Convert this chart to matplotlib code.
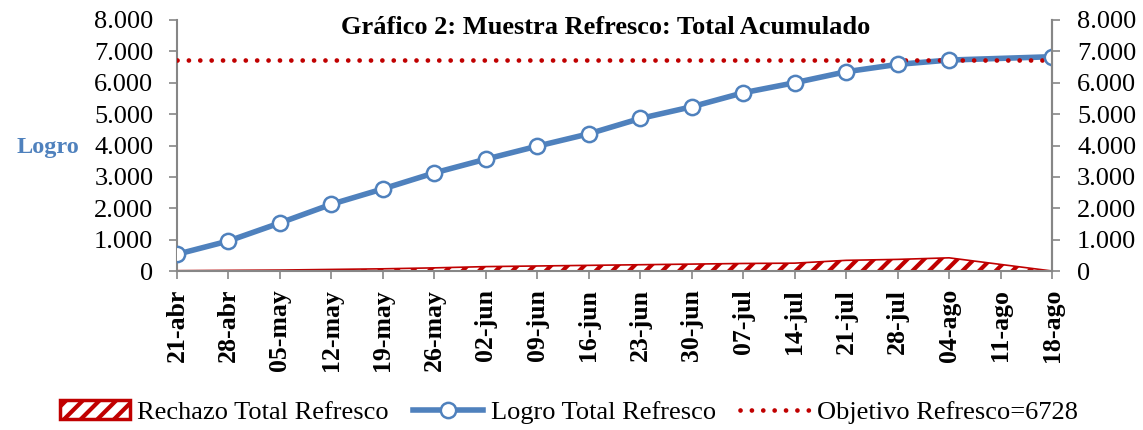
import numpy as np
import matplotlib
matplotlib.use('Agg')
import matplotlib.pyplot as plt
from matplotlib.ticker import FuncFormatter

plt.rcParams['font.family'] = ['Liberation Serif', 'DejaVu Serif']
plt.rcParams['hatch.color'] = '#C00000'
plt.rcParams['hatch.linewidth'] = 3.0

# Data
weeks = ['21-abr', '28-abr', '05-may', '12-may', '19-may', '26-may', '02-jun', '09-jun',
         '16-jun', '23-jun', '30-jun', '07-jul', '14-jul', '21-jul', '28-jul', '04-ago',
         '11-ago', '18-ago']
logro = [533, 957, 1532, 2128, 2617, 3127, 3564, 3979, 4372, 4862, 5234, 5680, 6000,
         6351, 6585, 6723, np.nan, 6830]
rechazo = [10, 20, 30, 50, 70, 100, 140, 160, 180, 200, 220, 240, 250, 340, 370, 420, 210, 0]
objetivo = 6728

blue = '#4F81BD'
red = '#C00000'
gray = '#868686'

fig = plt.figure(figsize=(11.43, 4.30), dpi=100)
ax = fig.add_axes([177 / 1143, 1 - 271 / 430, (1052 - 177) / 1143, (271 - 20) / 430])

x = np.arange(len(weeks))
ax.fill_between(x, rechazo, 0, facecolor='white', edgecolor=red, hatch='//',
                linewidth=1.2, label='Rechazo Total Refresco', zorder=2)

lg = np.array(logro, dtype=float)
m = ~np.isnan(lg)
ax.plot(x[m], lg[m], color=blue, linewidth=4, zorder=3)
ax.plot(x[m], lg[m], linestyle='none', marker='o', markersize=11, markerfacecolor='white',
        markeredgecolor=blue, markeredgewidth=1.8, zorder=4)
ax.plot([], [], color=blue, linewidth=4, marker='o', markersize=11,
        markerfacecolor='white', markeredgecolor=blue, markeredgewidth=1.8,
        label='Logro Total Refresco')

ax.plot([0, len(weeks) - 1], [objetivo, objetivo], color=red, linestyle=(0, (0.01, 2.4)),
        linewidth=3.4, dash_capstyle='round', label='Objetivo Refresco=6728', zorder=3)

ax.set_xlim(0, len(weeks) - 1)
ax.set_ylim(0, 8000)
ax.set_yticks(range(0, 8001, 1000))
fmt = FuncFormatter(lambda v, p: '0' if v == 0 else f'{int(v):,}'.replace(',', '.'))
ax.yaxis.set_major_formatter(fmt)
ax.set_xticks(x)
ax.set_xticklabels(weeks, rotation=90, fontweight='bold', fontsize=18.5)
ax.tick_params(axis='y', labelsize=19, length=6, color=gray, width=1.2, pad=11)
ax.tick_params(axis='x', length=6, color=gray, width=1.2, pad=7)

ax.spines['top'].set_visible(False)
for s in ['left', 'right', 'bottom']:
    ax.spines[s].set_color(gray)
    ax.spines[s].set_linewidth(1.5)

ax2 = ax.twinx()
ax2.set_ylim(0, 8000)
ax2.set_yticks(range(0, 8001, 1000))
ax2.yaxis.set_major_formatter(fmt)
ax2.tick_params(axis='y', labelsize=19, length=6, color=gray, width=1.2, pad=12)
for s in ['top', 'left', 'bottom']:
    ax2.spines[s].set_visible(False)
ax2.spines['right'].set_color(gray)
ax2.spines['right'].set_linewidth(1.5)

fig.text(606 / 1143, 1 - 28 / 430, 'Gráfico 2: Muestra Refresco: Total Acumulado',
         ha='center', va='center', fontsize=19, fontweight='bold')
fig.text(48 / 1143, 1 - 147 / 430, 'Logro', color=blue, fontsize=17.5, fontweight='bold',
         ha='center', va='center')

handles, labels = ax.get_legend_handles_labels()
order = ['Rechazo Total Refresco', 'Logro Total Refresco', 'Objetivo Refresco=6728']
hl = {l: h for h, l in zip(handles, labels)}
leg = fig.legend([hl[o] for o in order], order, loc='center',
                 bbox_to_anchor=(569 / 1143, 1 - 412 / 430), ncol=3, frameon=False,
                 fontsize=19, handlelength=2.65, columnspacing=0.9, handletextpad=0.3,
                 borderpad=0, borderaxespad=0)
leg.get_patches()[0].set_linewidth(2.5)

fig.savefig('out.png', dpi=100)
